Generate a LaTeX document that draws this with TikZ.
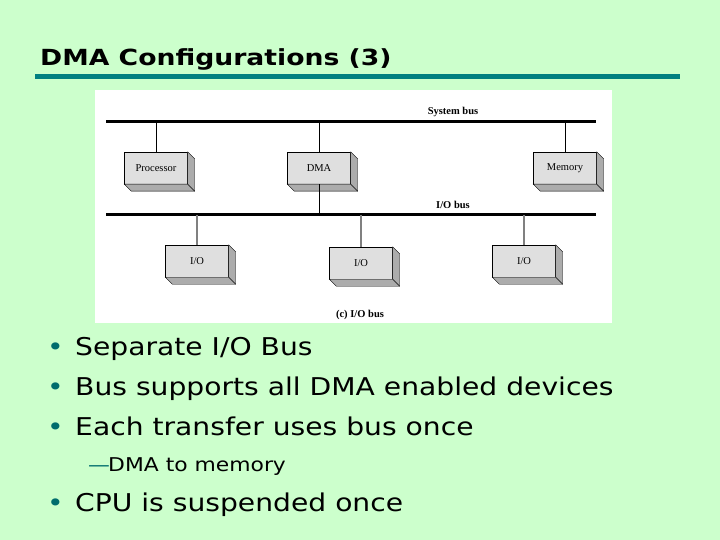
\documentclass[tikz,border=0pt]{standalone}
\usepackage{fontspec}
\setmainfont{DejaVu Sans}[BoldFont=DejaVu Sans Bold,FakeStretch=1.15,BoldFeatures={FakeStretch=1.2}]
\newfontfamily\serifb{Liberation Serif}
\usetikzlibrary{calc}
\definecolor{teal1}{RGB}{0,128,128}
\definecolor{bg}{RGB}{204,255,204}
\begin{document}
\begin{tikzpicture}[x=1pt,y=-1pt,
  box/.style={draw=black,fill=gray!25,minimum width=63pt,minimum height=32pt,inner sep=0pt,font=\serifb\fontsize{10.5}{12}\selectfont},
  bus/.style={line width=3pt},
  conn/.style={line width=0.7pt},
  bul/.style={anchor=base west,inner sep=0pt,font=\fontsize{24.5}{28}\selectfont},
  dot/.style={anchor=base west,inner sep=0pt,text=teal1!85!black,font=\fontsize{24.5}{28}\selectfont},
  lbl/.style={font=\serifb\bfseries\fontsize{10.5}{12}\selectfont}]
\fill[bg] (0,0) rectangle (720,540);
\useasboundingbox (0,0) rectangle (720,540);
\node[anchor=base west,inner sep=0pt,font=\bfseries\fontsize{22.2}{24}\selectfont] (title) at (40,66) {DMA Configurations (3)};
\fill[teal1] (35,74) rectangle (680,79);
\fill[white] (95,90) rectangle (612,323);
% buses
\coordinate (sl) at (106,122); \coordinate (sr) at (596,122);
\coordinate (il) at (106,215); \coordinate (ir) at (596,215);
\draw[bus] (sl) -- (sr);
\draw[bus] (il) -- (ir);
\node[lbl] (sysl) at (453,112) {System bus};
\node[lbl] (iol) at (453,205) {I/O bus};
\node[lbl] (cap) at (360,315) {(c) I/O bus};
\newcommand{\threed}[1]{\filldraw[fill=gray!65,draw=black] (#1.north east) -- ($(#1.north east)+(7,7)$) -- ($(#1.south east)+(7,7)$) -- ($(#1.south west)+(7,7)$) -- (#1.south west) -- (#1.south east) -- cycle; \draw ($(#1.south east)$) -- ($(#1.south east)+(7,7)$);}
\node[box] (proc) at (156,168) {Processor};
\node[box] (dma) at (319,168) {DMA};
\node[box] (mem) at (565,168) {Memory};
\node[box] (io1) at (197,261) {I/O};
\node[box] (io2) at (361,263) {I/O};
\node[box] (io3) at (524,261) {I/O};
\foreach \n in {proc,dma,mem,io1,io2,io3} {\threed{\n}}
\draw[conn] (proc.north) -- (proc.north |- sl);
\draw[conn] (dma.north) -- (dma.north |- sl);
\draw[conn] (mem.north) -- (mem.north |- sl);
\draw[conn] (dma.south) -- (dma.south |- il);
\draw[conn,gray,line width=1.2pt] (io1.north) -- (io1.north |- il);
\draw[conn,gray,line width=1.2pt] (io2.north) -- (io2.north |- il);
\draw[conn,gray,line width=1.2pt] (io3.north) -- (io3.north |- il);
% bullets
\node[dot] (d1) at (47,355) {•}; \node[bul] (b1) at (75,355) {Separate I/O Bus};
\node[dot] (d2) at (47,395) {•}; \node[bul] (b2) at (75,395) {Bus supports all DMA enabled devices};
\node[dot] (d3) at (47,435) {•}; \node[bul] (b3) at (75,435) {Each transfer uses bus once};
\node[anchor=base west,inner sep=0pt,text=teal1!85!black,font=\fontsize{19}{20}\selectfont] (dash) at (88,471) {—};
\node[anchor=base west,inner sep=0pt,font=\fontsize{19}{20}\selectfont] (s1) at (108,471) {DMA to memory};
\node[dot] (d4) at (47,511) {•}; \node[bul] (b4) at (75,511) {CPU is suspended once};
\end{tikzpicture}
\end{document}
